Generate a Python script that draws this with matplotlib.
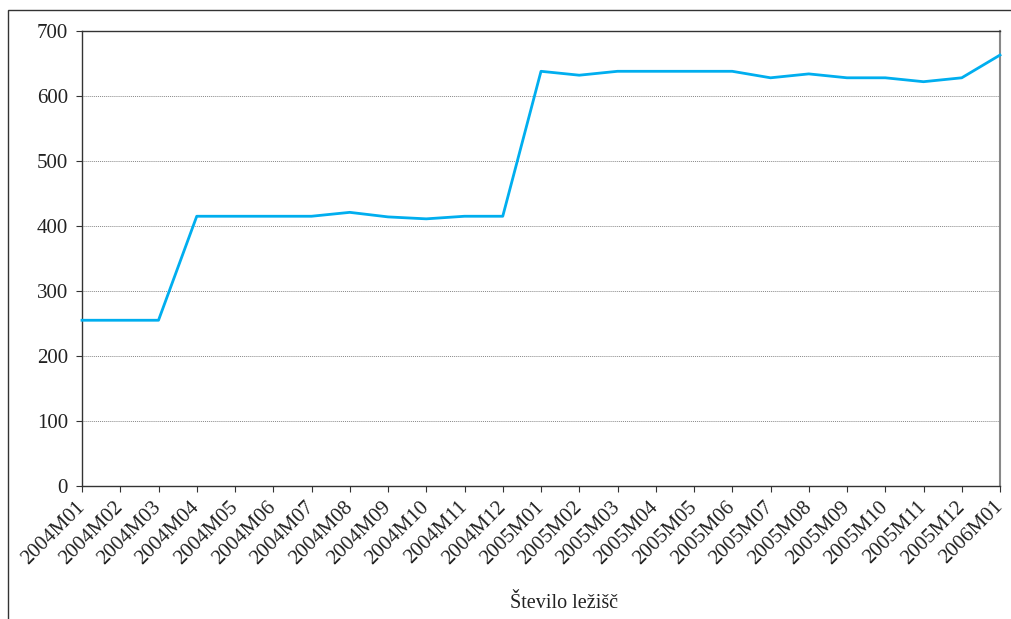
import numpy as np
import matplotlib.pyplot as plt
from matplotlib.patches import Rectangle

months = ['2004M01', '2004M02', '2004M03', '2004M04', '2004M05', '2004M06',
          '2004M07', '2004M08', '2004M09', '2004M10', '2004M11', '2004M12',
          '2005M01', '2005M02', '2005M03', '2005M04', '2005M05', '2005M06',
          '2005M07', '2005M08', '2005M09', '2005M10', '2005M11', '2005M12',
          '2006M01']
lezisca = [255, 255, 255, 415, 415, 415, 415, 421, 414, 411, 415, 415,
           638, 632, 638, 638, 638, 638, 628, 634, 628, 628, 622, 628, 663]
yticks = [0, 100, 200, 300, 400, 500, 600, 700]

plt.rcParams['font.family'] = ['Liberation Serif', 'DejaVu Serif']

W, H = 1011, 619
fig = plt.figure(figsize=(W / 100, H / 100), dpi=100)
# plot area in pixels: left 82, right 1000, top 31, bottom 486
ax = fig.add_axes([82 / W, 1 - 486 / H, (1000 - 82) / W, (486 - 31) / H])

# outer frame
fig.patches.append(Rectangle((8 / W, -0.1), 1.2, 1 - 10 / H + 0.1,
                             transform=fig.transFigure, fill=False,
                             edgecolor='#333333', linewidth=1.0))

x = np.arange(len(months))
ax.plot(x, lezisca, color='#00AEEF', linewidth=2.0, clip_on=False, zorder=3)

ax.set_xlim(0, len(months) - 1)
ax.set_ylim(0, 700)
ax.set_yticks(yticks)
ax.set_xticks(x)
ax.set_xticklabels(months, rotation=45, ha='right', va='center',
                   rotation_mode='anchor')
ax.tick_params(axis='both', direction='out', length=4,
               color='#333333', labelcolor='#222222')
ax.tick_params(axis='x', pad=9, labelsize=15)
ax.tick_params(axis='y', pad=6, labelsize=15)

for yv in yticks[1:-1]:
    ax.axhline(yv, color='#888888', linestyle=(0, (1, 1)), linewidth=0.7,
               zorder=1)

for s in ['left', 'bottom', 'top']:
    ax.spines[s].set_color('#333333')
    ax.spines[s].set_linewidth(1.0)
ax.spines['right'].set_color('#888888')
ax.spines['right'].set_linewidth(1.5)

fig.text(564 / W, 1 - 604 / H, 'Število ležišč', ha='center', va='center',
         fontsize=14.5, color='#222222')

fig.savefig('out.png', dpi=100)
